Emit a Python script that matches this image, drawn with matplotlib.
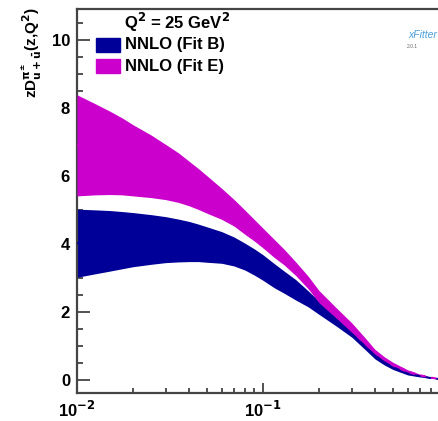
import matplotlib.pyplot as plt
from matplotlib.patches import Rectangle
from matplotlib.ticker import MultipleLocator, FixedLocator, FixedFormatter, LogLocator, NullFormatter
import numpy as np

plt.rcParams.update({
    'font.family': ['Liberation Sans', 'DejaVu Sans'],
    'font.weight': 'bold',
    'mathtext.default': 'bf',
})

# z grid and band edges
z = np.array([0.01, 0.0125, 0.015, 0.0175, 0.02, 0.025, 0.03, 0.035, 0.04,
              0.045, 0.05, 0.06, 0.07, 0.08, 0.09, 0.1, 0.115, 0.13, 0.15,
              0.175, 0.2, 0.25, 0.3, 0.35, 0.4, 0.45, 0.5, 0.6, 0.7, 0.8,
              0.9, 1.0])

# NNLO (Fit B)
fitB_hi = np.array([5.02, 5.00, 4.98, 4.95, 4.92, 4.86, 4.80, 4.73, 4.66,
                    4.58, 4.50, 4.36, 4.20, 4.02, 3.85, 3.68, 3.42, 3.20, 2.95,
                    2.62, 2.32, 1.86, 1.46, 1.12, 0.82, 0.60, 0.45, 0.24, 0.14,
                    0.07, 0.03, 0.0])
fitB_lo = np.array([3.02, 3.12, 3.20, 3.27, 3.33, 3.40, 3.45, 3.47, 3.48,
                    3.48, 3.46, 3.43, 3.35, 3.23, 3.08, 2.93, 2.71, 2.55, 2.35,
                    2.15, 1.93, 1.57, 1.26, 0.92, 0.62, 0.44, 0.31, 0.15, 0.09,
                    0.05, 0.02, 0.0])
# NNLO (Fit E)
fitE_hi = np.array([8.38, 8.12, 7.90, 7.70, 7.50, 7.20, 6.92, 6.68, 6.43,
                    6.21, 6.00, 5.63, 5.30, 4.99, 4.71, 4.46, 4.13, 3.84, 3.47,
                    3.05, 2.63, 2.10, 1.68, 1.27, 0.90, 0.68, 0.52, 0.30, 0.17,
                    0.09, 0.04, 0.0])
fitE_lo = np.array([5.41, 5.44, 5.45, 5.44, 5.41, 5.36, 5.30, 5.22, 5.12,
                    5.01, 4.90, 4.72, 4.52, 4.28, 4.08, 3.88, 3.60, 3.38, 3.07,
                    2.68, 2.27, 1.80, 1.40, 1.05, 0.76, 0.56, 0.40, 0.21, 0.12,
                    0.06, 0.02, 0.0])

labels = ['NNLO (Fit B)', 'NNLO (Fit E)']
colors = ['#000099', '#cc00cc']

W, H = 439, 421
fig = plt.figure(figsize=(W / 100, H / 100), dpi=100)
# right edge of the frame lies just outside the picture (z = 1)
ax = fig.add_axes([77 / W, (H - 393) / H, (449 - 77) / W, (393 - 9) / H])

ax.fill_between(z, fitB_lo, fitB_hi, color=colors[0], lw=0, zorder=2)
ax.fill_between(z, fitE_lo, fitE_hi, color=colors[1], lw=0, zorder=3)
ax.plot(z, (fitE_lo + fitE_hi) / 2, color=colors[1], ls=(0, (3, 3)), lw=1.3, zorder=4)
ax.plot(z, (fitB_lo + fitB_hi) / 2, color=colors[0], ls=(0, (3, 3)), lw=1.3, zorder=5)

ax.set_xscale('log')
ax.set_xlim(0.01, 1.0)
ax.set_ylim(-0.38, 10.9)

ax.yaxis.set_major_locator(MultipleLocator(2))
ax.yaxis.set_minor_locator(MultipleLocator(0.5))
ax.xaxis.set_major_locator(FixedLocator([0.01, 0.1, 1.0]))
ax.xaxis.set_major_formatter(FixedFormatter([r'10$^{-2}$', r'10$^{-1}$', '']))
ax.xaxis.set_minor_locator(LogLocator(base=10, subs=np.arange(2, 10), numticks=20))
ax.xaxis.set_minor_formatter(NullFormatter())

ax.tick_params(which='both', direction='in', top=False, right=False,
               color='#444444', width=1.3, labelsize=12)
ax.tick_params(axis='y', which='major', length=9, pad=5)
ax.tick_params(axis='y', which='minor', length=4.5)
ax.tick_params(axis='x', which='major', length=7.5, pad=5)
ax.tick_params(axis='x', which='minor', length=3.8)
for s in ax.spines.values():
    s.set_color('#444444')
    s.set_linewidth(1.6)

ax.set_ylabel(r'zD$^{\pi^{\pm}}_{u+\bar{u}}$(z,Q$^{2}$)', fontsize=11,
              fontweight='bold')
ax.yaxis.set_label_coords(-0.09, 0.888)

# legend
fig.text(124 / W, 1 - 22 / H, r'Q$^{2}$ = 25 GeV$^{2}$', fontsize=12,
         fontweight='bold', va='center', ha='left')
for i, (lab, c) in enumerate(zip(labels, colors)):
    yc = 45 + i * 21
    fig.patches.append(Rectangle((96 / W, 1 - (yc + 7) / H), 24 / W, 14 / H,
                                 transform=fig.transFigure, color=c))
    fig.text(125 / W, 1 - yc / H, lab, fontsize=12, fontweight='bold',
             va='center', ha='left')

# xFitter mark
fig.text(437 / W, 1 - 35 / H, 'xFitter', fontsize=7.5, style='italic',
         fontweight='normal', color='#4a9fdc', ha='right', va='center')
fig.text(407 / W, 1 - 46 / H, '2.0.1', fontsize=3.5, fontweight='normal',
         color='#666666', ha='left', va='center')

fig.savefig('out.png', dpi=100)
